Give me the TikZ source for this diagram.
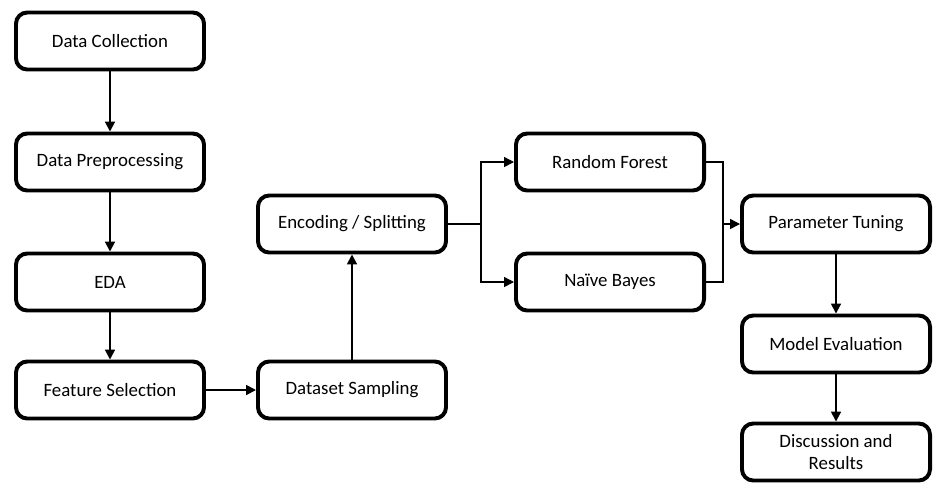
\documentclass[tikz,border=0pt]{standalone}
\usepackage{fontspec}
\setmainfont{Carlito}
\usetikzlibrary{arrows.meta}

\begin{document}
\begin{tikzpicture}[x=0.025cm, y=-0.025cm,
  stage/.style={draw, line width=2.8pt, rounded corners=8pt, fill=white,
    minimum width=4.7cm, minimum height=1.425cm, align=center,
    font=\fontsize{13.4}{15.8}\selectfont},
  flow/.style={line width=1.3pt, -{Triangle[length=7pt,width=7pt]}},
  branch/.style={line width=1pt, -{Triangle[length=7pt,width=7pt]}}]

  \useasboundingbox (0,0) rectangle (952,495);

  \node[stage] (collect) at (110,41)  {Data Collection};
  \node[stage] (prep)    at (110,162) {Data Preprocessing};
  \node[stage] (eda)     at (110,282) {EDA};
  \node[stage] (select)  at (110,390) {Feature Selection};
  \node[stage] (sample)  at (352,390) {Dataset Sampling};
  \node[stage] (encode)  at (352,224) {Encoding / Splitting};
  \node[stage] (forest)  at (610,162) {Random Forest};
  \node[stage] (bayes)   at (610,282) {Naïve Bayes};
  \node[stage] (tune)    at (836,224) {Parameter Tuning};
  \node[stage] (eval)    at (836,344) {Model Evaluation};
  \node[stage] (results) at (836,452) {Discussion and\\Results};

  \coordinate (split) at (481,224);
  \coordinate (merge) at (723,224);

  \draw[flow] (collect) -- (prep);
  \draw[flow] (prep) -- (eda);
  \draw[flow] (eda) -- (select);
  \draw[flow] (select) -- (sample);
  \draw[flow] (sample) -- (encode);
  \draw[branch] (encode.east) -- (split) |- (forest.west);
  \draw[branch] (split) |- (bayes.west);
  \draw[line width=1pt] (forest.east) -| (merge);
  \draw[line width=1pt] (bayes.east) -| (merge);
  \draw[branch] (merge) -- (tune.west);
  \draw[flow] (tune) -- (eval);
  \draw[flow] (eval) -- (results);
\end{tikzpicture}
\end{document}
